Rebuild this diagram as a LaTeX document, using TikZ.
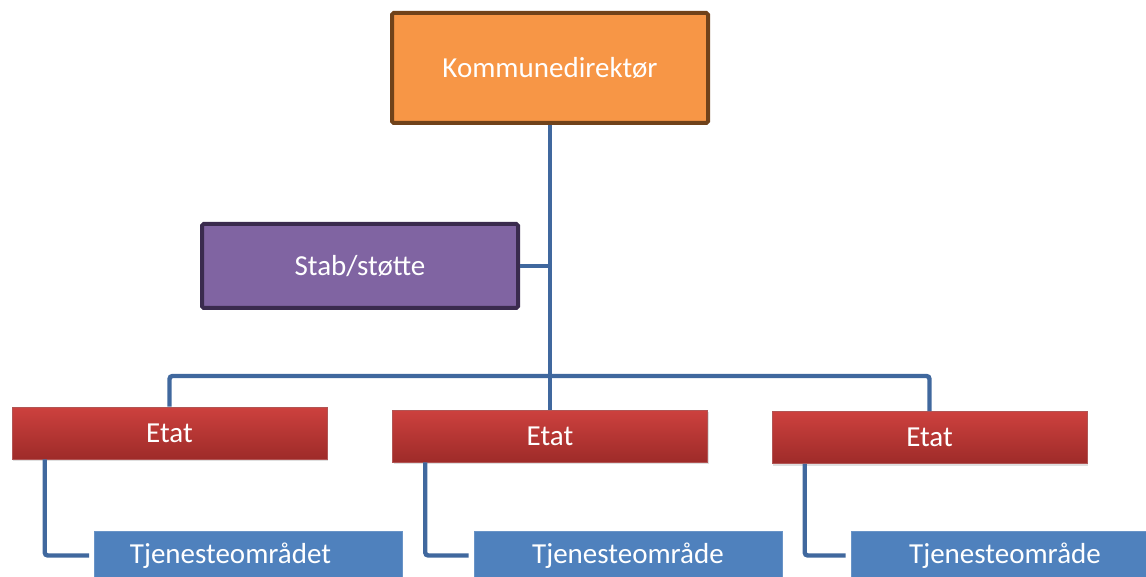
\documentclass[tikz,border=0pt]{standalone}
\usepackage{fontspec}
\setmainfont{Carlito}
\usepackage{tikz}
\usetikzlibrary{shadows}

\definecolor{kdfill}{RGB}{247,150,70}
\definecolor{kddraw}{RGB}{112,66,26}
\definecolor{stabfill}{RGB}{128,100,162}
\definecolor{stabdraw}{RGB}{58,43,78}
\definecolor{etattop}{RGB}{205,65,62}
\definecolor{etatbot}{RGB}{158,43,41}
\definecolor{tjfill}{RGB}{79,129,189}
\definecolor{linkblue}{RGB}{64,104,158}

\tikzset{
    box/.style={rectangle, text=white, inner sep=0pt,
        font=\fontsize{14.5}{17}\selectfont},
    kdbox/.style={box, fill=kdfill, draw=kddraw, line width=2pt,
        rounded corners=0.8pt, minimum width=158pt, minimum height=55pt},
    stabbox/.style={box, fill=stabfill, draw=stabdraw, line width=2pt,
        rounded corners=0.8pt, minimum width=158pt, minimum height=42pt},
    etatbox/.style={box, top color=etattop, bottom color=etatbot,
        draw=etatbot!80!white, line width=0.3pt,
        drop shadow={shadow xshift=0.6pt, shadow yshift=-1.2pt, opacity=0.25},
        minimum width=157.5pt, minimum height=26pt},
    tjbox/.style={box, fill=tjfill, draw=tjfill!85!white, line width=0.3pt,
        minimum width=154pt, minimum height=24.5pt},
    link/.style={draw=linkblue, line width=2.2pt, rounded corners=1.5pt},
}

\begin{document}
\begin{tikzpicture}[x=0.5pt, y=-0.5pt]
    \useasboundingbox (0,0) rectangle (1146,577);

    % ledelse og stab
    \node[kdbox] (kd) at (550,68) {Kommunedirektør};
    \node[stabbox] (stab) at (360,266) {Stab/støtte};
    \coordinate (hub) at (550,376);

    % etater
    \node[etatbox] (etat1) at (169.5,433) {Etat};
    \node[etatbox] (etat2) at (550,436) {Etat};
    \node[etatbox] (etat3) at (929.5,437.5) {Etat};

    % tjenesteomraader
    \node[tjbox] (tj1) at (248.5,555.5) {Tjenesteområdet\hspace*{18pt}};
    \node[tjbox] (tj2) at (628,555.5) {Tjenesteområde};
    \node[tjbox] (tj3) at (1005,555.5) {Tjenesteområde};

    % linjer
    \draw[link] (kd.south) -- (hub);
    \draw[link] (stab.east) -- (stab.east -| kd.south);
    \draw[link] (etat1.north) |- (hub) -| (etat3.north);
    \draw[link] (hub) -- (etat2.north);
    \foreach \i in {1,2,3} {
        \draw[link, shorten >=2.5pt] ([xshift=16.5pt]etat\i.south west) |- (tj\i.west);
    }
\end{tikzpicture}
\end{document}
